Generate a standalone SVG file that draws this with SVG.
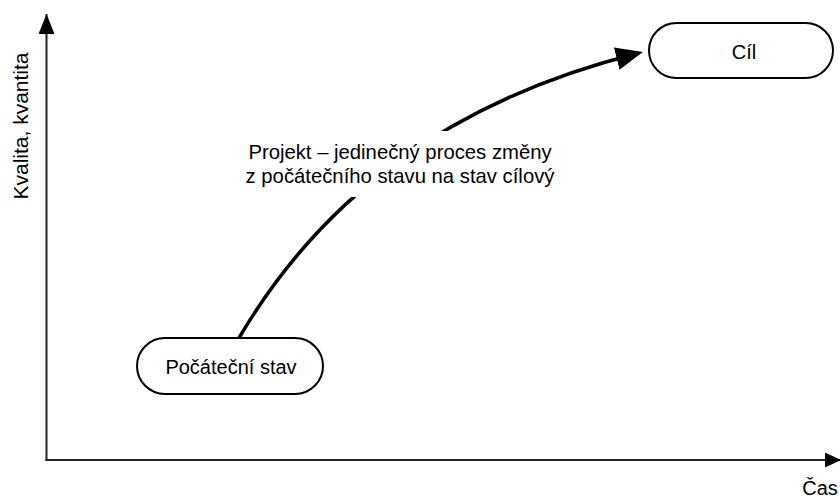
<svg xmlns="http://www.w3.org/2000/svg" width="840" height="498" viewBox="0 0 840 498">
<style>
text{font-family:"Liberation Sans",Arial,sans-serif;font-size:20px;fill:#000}
.node{fill:#fff;stroke:#000;stroke-width:2}
.axis{fill:none;stroke:#222;stroke-width:2}
.flow{fill:none;stroke:#000;stroke-width:3.5}
</style>
<defs>
<marker id="axV" markerUnits="userSpaceOnUse" viewBox="0 0 20 16" markerWidth="20" markerHeight="16" refX="20" refY="8" orient="auto"><path d="M0,0 L20,8 L0,16 z" fill="#000"/></marker>
<marker id="axH" markerUnits="userSpaceOnUse" viewBox="0 0 16 15" markerWidth="16" markerHeight="15" refX="16" refY="7.5" orient="auto"><path d="M0,0 L16,7.5 L0,15 z" fill="#000"/></marker>
<marker id="arr" markerUnits="userSpaceOnUse" viewBox="0 0 27 23" markerWidth="27" markerHeight="23" refX="23" refY="11.5" orient="auto"><path d="M0,0 L27,11.5 L0,23 z" fill="#000"/></marker>
</defs>
<g id="axes">
<path class="axis" d="M46.5,461 L46.5,14" marker-end="url(#axV)"/>
<path class="axis" d="M45.5,460 L841,460" marker-end="url(#axH)"/>
<text id="y-label" transform="translate(28,126) rotate(-90)" text-anchor="middle" style="font-size:21px">Kvalita, kvantita</text>
<text id="x-label" x="820" y="495" text-anchor="middle">Čas</text>
</g>
<g id="connectors">
<path class="flow" d="M239,338 C320,200 447,101 639,53" marker-end="url(#arr)"/>
</g>
<g id="label">
<rect x="240" y="131" width="320" height="66" fill="#fff"/>
<text x="400" y="159" text-anchor="middle" style="font-size:20.3px">Projekt – jedinečný proces změny</text>
<text x="400" y="183" text-anchor="middle" style="font-size:20.3px">z počátečního stavu na stav cílový</text>
</g>
<g id="start">
<rect class="node" x="137" y="338" width="186" height="56" rx="28"/>
<text x="231" y="374" text-anchor="middle">Počáteční stav</text>
</g>
<g id="goal">
<rect class="node" x="649" y="23" width="184" height="55" rx="27.5"/>
<text x="744" y="59" text-anchor="middle">Cíl</text>
</g>
</svg>
